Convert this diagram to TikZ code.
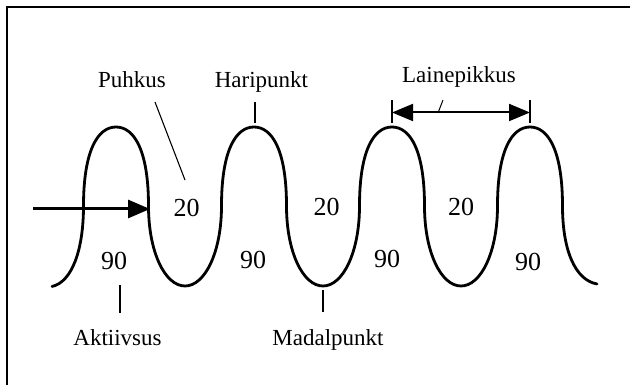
\documentclass[tikz,border=0pt]{standalone}
\usepackage{fontspec}
\setmainfont{Liberation Serif}
\usetikzlibrary{arrows.meta}
\tikzset{
  wave/.style={line width=2.8pt, line join=round, line cap=round},
  leader/.style={line width=1.1pt},
  lbl/.style={font=\fontsize{23}{27}\selectfont, inner sep=0pt, anchor=base},
  num/.style={font=\fontsize{26}{30}\selectfont, inner sep=0pt},
  bigarrow/.style={line width=3pt, -{Triangle[length=22pt,width=18pt]}},
  dblarrow/.style={line width=2pt, {Triangle[length=21pt,width=17pt]}-{Triangle[length=21pt,width=17pt]}},
  frameline/.style={line width=2.2pt}
}
\begin{document}
\begin{tikzpicture}[x=1pt,y=-1pt]
\useasboundingbox (0,0) rectangle (630,385);
% frame (left and top visible)
\coordinate (fBL) at (7,386);
\coordinate (fTL) at (7,7);
\coordinate (fTR) at (631,7);
\draw[frameline] (fBL) -- (fTL) -- (fTR);

% wave
\draw[wave] (52,286.5) .. controls (72,282) and (83.5,250) .. (83.5,206)
 .. controls (83.5,150) and (98,127) .. (116,127)
 .. controls (134,127) and (148.5,150) .. (148.5,206)
 .. controls (148.5,252) and (165,286) .. (185,286)
 .. controls (205,286) and (221.5,252) .. (221.5,206)
 .. controls (221.5,150) and (236,127) .. (254,127)
 .. controls (272,127) and (286.5,150) .. (286.5,206)
 .. controls (286.5,252) and (303,286) .. (323,286)
 .. controls (343,286) and (359.5,252) .. (359.5,206)
 .. controls (359.5,150) and (374,127) .. (392,127)
 .. controls (410,127) and (424.5,150) .. (424.5,206)
 .. controls (424.5,252) and (441,286) .. (461,286)
 .. controls (481,286) and (497.5,252) .. (497.5,206)
 .. controls (497.5,150) and (512,127) .. (530,127)
 .. controls (548,127) and (562.5,150) .. (562.5,206)
 .. controls (562.5,250) and (575,280) .. (597,284);

% labels
\node[lbl] (puhkus) at (132,88) {Puhkus};
\node[lbl] (haripunkt) at (261.5,88) {Haripunkt};
\node[lbl] (laine) at (459,83) {Lainepikkus};
\node[lbl] (aktiivsus) at (117.5,345) {Aktiivsus};
\node[lbl] (madal) at (328,345) {Madalpunkt};

% numbers
\node[num] (n20a) at (186.7,208) {20};
\node[num] (n20b) at (326.7,207) {20};
\node[num] (n20c) at (461,207) {20};
\node[num] (n90a) at (114,261) {90};
\node[num] (n90b) at (253,260) {90};
\node[num] (n90c) at (387,259) {90};
\node[num] (n90d) at (528,262) {90};

% leader lines
\coordinate (puhA) at (155,102);
\coordinate (puhB) at (185,180);
\draw[leader] (puhA) -- (puhB);
\coordinate (hariA) at (255,102);
\coordinate (hariB) at (255,123);
\draw[leader] (hariA) -- (hariB);
\coordinate (aktA) at (120,285);
\coordinate (aktB) at (120,313);
\draw[leader] (aktA) -- (aktB);
\coordinate (madA) at (323,290);
\coordinate (madB) at (323,312);
\draw[leader] (madA) -- (madB);

% input arrow
\coordinate (arrS) at (33,209);
\coordinate (arrE) at (150,209);
\draw[bigarrow] (arrS) -- (arrE);

% wavelength arrow
\coordinate (wlL) at (392,112.5);
\coordinate (wlR) at (530,112.5);
\draw[dblarrow] (wlL) -- (wlR);
\coordinate (barLt) at (392,100);
\coordinate (barLb) at (392,123);
\coordinate (barRt) at (530,100);
\coordinate (barRb) at (530,123);
\draw[leader] (barLt) -- (barLb);
\draw[leader] (barRt) -- (barRb);
\coordinate (slA) at (443,100);
\coordinate (slB) at (438,113);
\draw[line width=1pt] (slA) -- (slB);
\end{tikzpicture}
\end{document}
